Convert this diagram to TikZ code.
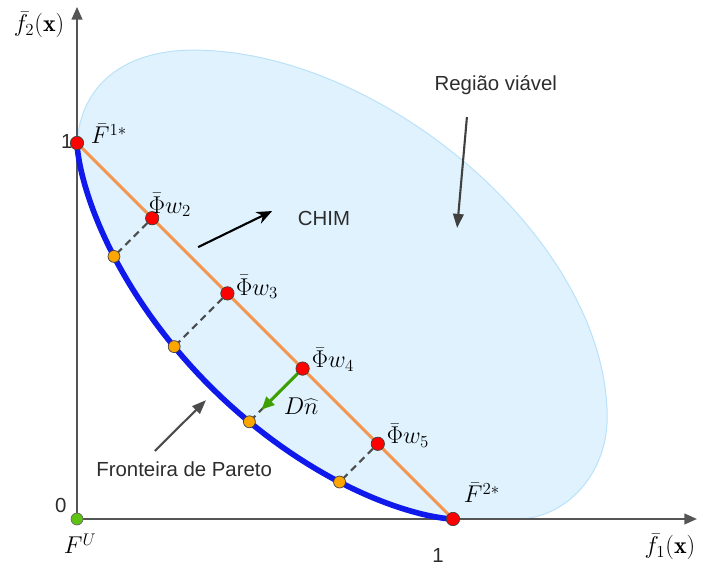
\documentclass[tikz,border=0pt]{standalone}
\usepackage{fontspec}
\setsansfont{Liberation Sans}
\usetikzlibrary{arrows.meta,calc,backgrounds}

\definecolor{regiao}{RGB}{224,242,253}
\definecolor{regiaoborda}{RGB}{185,226,250}
\definecolor{pareto}{RGB}{15,25,235}
\definecolor{chim}{RGB}{245,150,80}
\definecolor{eixo}{RGB}{85,85,85}
\definecolor{verde}{RGB}{60,160,0}
\definecolor{verdeclaro}{RGB}{95,195,20}
\definecolor{laranja}{RGB}{255,165,0}
\definecolor{texto}{RGB}{45,45,45}

\begin{document}
\begin{tikzpicture}[
  x=9.4cm,
  y=9.4cm,
  >=Stealth,
  axis/.style={draw=eixo, line width=1.6pt, -{Triangle[length=9pt,width=7.5pt]}},
  redpt/.style={circle, draw=black!75, line width=0.5pt, fill=red, minimum size=9.5pt, inner sep=0pt},
  orangept/.style={circle, draw=black!75, line width=0.5pt, fill=laranja, minimum size=8.5pt, inner sep=0pt},
  greenpt/.style={circle, draw=black!60, line width=0.5pt, fill=verdeclaro, minimum size=8.5pt, inner sep=0pt},
  mathlbl/.style={font=\fontsize{17}{20}\selectfont, inner sep=0pt},
  sanslbl/.style={font=\sffamily\fontsize{14.5}{17}\selectfont, text=texto, inner sep=0pt},
  normal/.style={draw=black!70, line width=1.5pt, dash pattern=on 5pt off 3.5pt},
  annot/.style={line width=1.5pt, -{Triangle[length=10pt,width=7.5pt]}}
]
  \useasboundingbox (-0.2048,-0.1383) rectangle (1.6755,1.3803);

  \coordinate (O) at (0,0);
  \coordinate (xend) at (1.649,0);
  \coordinate (yend) at (0,1.362);

  \node[redpt] (F1) at (0,1) {};
  \node[redpt] (F2) at (1,0) {};
  \node[redpt] (w2) at (0.2,0.8) {};
  \node[redpt] (w3) at (0.4,0.6) {};
  \node[redpt] (w4) at (0.6,0.4) {};
  \node[redpt] (w5) at (0.8,0.2) {};
  \node[orangept] (p2) at (0.0983,0.6983) {};
  \node[orangept] (p3) at (0.2585,0.4585) {};
  \node[orangept] (p4) at (0.4585,0.2585) {};
  \node[orangept] (p5) at (0.6983,0.0983) {};
  \node[greenpt] (FU) at (O) {};

  \begin{scope}[on background layer]
    \fill[regiao] (0,1) .. controls (0.01,1.15) and (0.12,1.247) .. (0.31,1.247)
      .. controls (0.81,1.247) and (1.41,0.74) .. (1.41,0.27)
      .. controls (1.41,0.12) and (1.30,0) .. (1.17,0) -- (1,0)
      -- plot[domain=0:90, samples=60] ({cos(\x)^3},{sin(\x)^3}) -- cycle;
    \draw[regiaoborda, line width=0.7pt] (0,1) .. controls (0.01,1.15) and (0.12,1.247) .. (0.31,1.247)
      .. controls (0.81,1.247) and (1.41,0.74) .. (1.41,0.27)
      .. controls (1.41,0.12) and (1.30,0) .. (1.17,0);

    \draw[axis] (O) -- (xend);
    \draw[axis] (O) -- (yend);

    \draw[pareto, line width=4pt, line cap=round] plot[domain=0:90, samples=80] ({cos(\x)^3},{sin(\x)^3});

    \draw[chim, line width=2.2pt] (F1.center) -- (F2.center);
    \draw[normal] (w2) -- (p2);
    \draw[normal] (w3) -- (p3);
    \draw[normal] (w4) -- (p4);
    \draw[normal] (w5) -- (p5);
    \draw[verde, line width=2.2pt, -{Triangle[length=9pt,width=8pt]}] (w4) -- ($(w4)!0.77!(p4)$);
  \end{scope}

  \node[mathlbl] (lf2) at (-0.101,1.314) {$\bar{f}_2(\mathbf{x})$};
  \node[mathlbl] (lf1) at (1.577,-0.074) {$\bar{f}_1(\mathbf{x})$};
  \node[mathlbl] (lF1) at (0.085,1.024) {$\bar{F}^{1*}$};
  \node[mathlbl] (lF2) at (1.077,0.069) {$\bar{F}^{2*}$};
  \node[mathlbl] (lFU) at (0.008,-0.066) {$F^{U}$};
  \node[mathlbl] (lw2) at (0.247,0.835) {$\bar{\Phi}w_2$};
  \node[mathlbl] (lw3) at (0.479,0.617) {$\bar{\Phi}w_3$};
  \node[mathlbl] (lw4) at (0.681,0.423) {$\bar{\Phi}w_4$};
  \node[mathlbl] (lw5) at (0.880,0.221) {$\bar{\Phi}w_5$};
  \node[mathlbl] (lDn) at (0.596,0.301) {$D\widehat{n}$};

  \node[sanslbl] (one-y) at (-0.027,1.003) {1};
  \node[sanslbl] (zero) at (-0.043,0.035) {0};
  \node[sanslbl] (one-x) at (0.960,-0.096) {1};
  \node[sanslbl] (lchim) at (0.657,0.798) {CHIM};
  \node[sanslbl] (lregiao) at (1.114,1.154) {Região viável};
  \node[sanslbl] (lpareto) at (0.285,0.133) {Fronteira de Pareto};

  \coordinate (chimA) at (0.322,0.723);
  \coordinate (chimB) at (0.519,0.819);
  \coordinate (regA) at (1.037,1.069);
  \coordinate (regB) at (1.011,0.774);
  \coordinate (parA) at (0.207,0.181);
  \coordinate (parB) at (0.343,0.316);

  \draw[annot, black, -{Stealth[length=11pt,width=9pt]}] (chimA) -- (chimB);
  \draw[annot, black!75] (regA) -- (regB);
  \draw[annot, black!70] (parA) -- (parB);
\end{tikzpicture}
\end{document}
